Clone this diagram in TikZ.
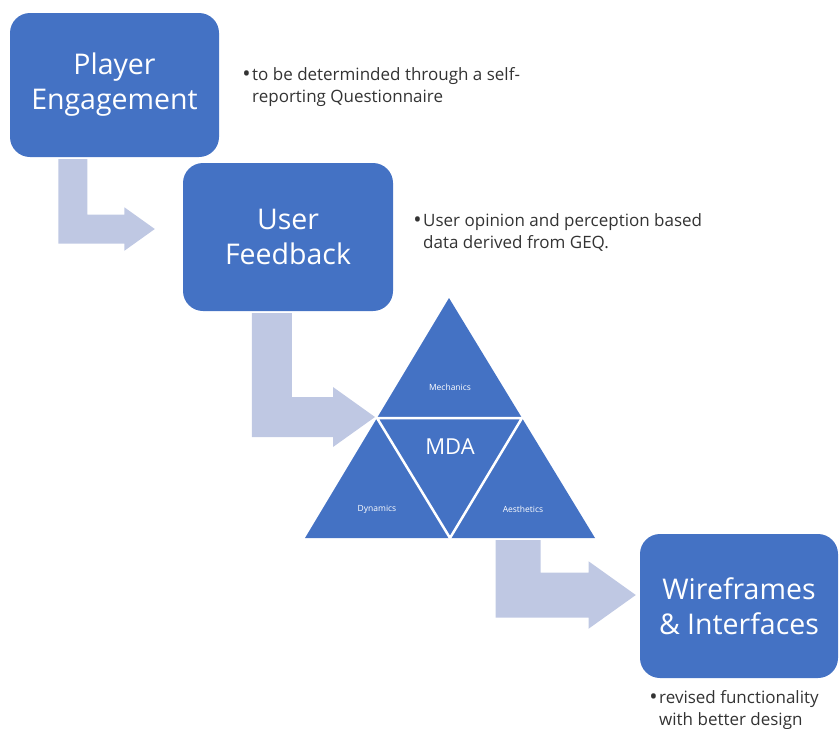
\documentclass[tikz,border=0pt]{standalone}
\usepackage{fontspec}
\setmainfont{Open Sans}
\usetikzlibrary{calc, positioning}

\definecolor{boxblue}{HTML}{4472C4}
\definecolor{arrowblue}{HTML}{BFC8E3}
\definecolor{notegray}{HTML}{333333}

\tikzset{
  stage/.style={fill=boxblue, rounded corners=20pt, text=white, align=center,
    font=\fontsize{28.5}{35}\selectfont, inner sep=0pt},
  note/.style={text=notegray, align=left, anchor=north west, inner sep=0pt,
    font=\fontsize{17}{22}\selectfont},
  part/.style={text=white, inner sep=0pt, font=\fontsize{8.5}{10}\selectfont},
  flowarrow/.style={fill=arrowblue},
}

% bullet a little larger than the text
\newcommand{\notebullet}{\llap{\raisebox{-1.6pt}{\scalebox{1.3}{•}}\hspace{1.5pt}}}

% bent block arrow: #1 top of stem, #2 tip, #3 half width of the bar
\newcommand{\bentarrow}[3]{%
  \fill[flowarrow] let \p1=(#1), \p2=(#2), \n1={#3}, \n2={2.1*#3} in
    (\x1-\n1,\y1) -- (\x1+\n1,\y1) -- (\x1+\n1,\y2+\n1) -- (\x2-\n2,\y2+\n1)
    -- (\x2-\n2,\y2+1.5*\n1) -- (\x2,\y2) -- (\x2-\n2,\y2-1.5*\n1)
    -- (\x2-\n2,\y2-\n1) -- (\x1-\n1,\y2-\n1) -- cycle;}

\begin{document}
\begin{tikzpicture}[x=1pt, y=-1pt]
  \useasboundingbox (0,0) rectangle (840,728);

  % stages
  \node[stage, minimum width=209pt, minimum height=144pt] (engage) at (114.5,85) {Player\\Engagement};
  \node[stage, minimum width=210pt, minimum height=148pt] (feedback) at (288,237) {User\\Feedback};
  \node[stage, minimum width=198pt, minimum height=144pt] (wire) at (739,606) {Wireframes\\\& Interfaces};

  % MDA triangle
  \coordinate (mda top) at (449,298);
  \coordinate (mda left) at (305,538);
  \coordinate (mda right) at (595,538);
  \coordinate (mda ml) at ($(mda top)!0.5!(mda left)$);
  \coordinate (mda mr) at ($(mda top)!0.5!(mda right)$);
  \coordinate (mda mb) at ($(mda left)!0.5!(mda right)$);
  \fill[boxblue] (mda top) -- (mda left) -- (mda right) -- cycle;
  \draw[white, line width=2.5pt] (mda ml) -- (mda mr) -- (mda mb) -- cycle;

  \node[part] (mechanics) at (450,387) {Mechanics};
  \node[part] (dynamics) at (377,509) {Dynamics};
  \node[part] (aesthetics) at (523,509) {Aesthetics};
  \node[text=white, inner sep=0pt, font=\fontsize{22}{26}\selectfont] (mda) at (450,447) {MDA};

  % arrows
  \bentarrow{$(engage.south west)+(63,2)$}{$(feedback.west)+(-28,-8)$}{14.5}
  \bentarrow{$(feedback.south west)+(89,2)$}{$(mda ml)+(-2,-1)$}{20}
  \bentarrow{$(mda mb)+(68,2)$}{$(wire.west)+(-4,-11)$}{22.5}

  % notes
  \node[note] (engage note) at (252,67) {\notebullet to be determinded through a self-\\reporting Questionnaire};
  \node[note] (feedback note) at (423,213) {\notebullet User opinion and perception based\\data derived from GEQ.};
  \node[note] (wire note) at (659,690) {\notebullet revised functionality\\with better design};
\end{tikzpicture}
\end{document}
